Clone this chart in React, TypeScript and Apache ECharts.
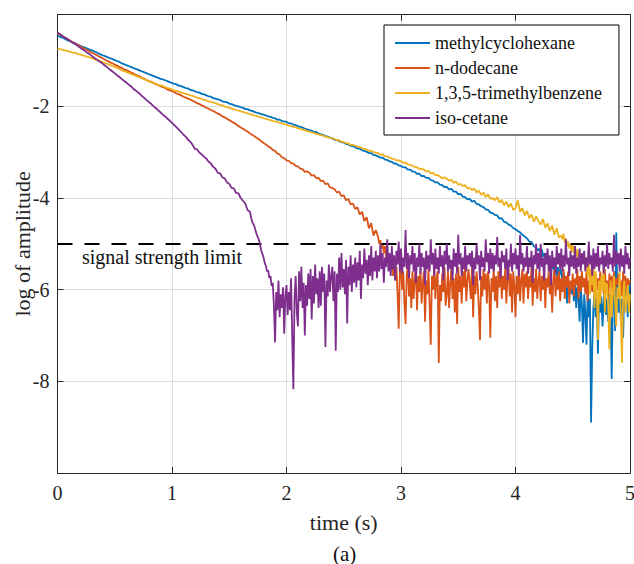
import React, { useEffect, useRef } from "react";
import * as echarts from "echarts";

// Each curve: a "head" sampled every 0.02 s from t = 0, and a noisy "tail"
// sampled every 0.01 s starting at its own start time.
const HEAD_DT = 0.02;
const TAIL_DT = 0.01;
const X_TICKS = [0, 1, 2, 3, 4, 5];
const Y_MIN = -10;
const Y_MAX = 0;
const LIMIT = -5;

const seriesNames = [
  "methylcyclohexane",
  "n-dodecane",
  "1,3,5-trimethylbenzene",
  "iso-cetane",
];
const seriesColors = ["#0072BD", "#D95319", "#EDB120", "#7E2F8E"];

// ---- methylcyclohexane ----
const mchHead = [
  -0.46,-0.48,-0.50,-0.52,-0.55,-0.57,-0.59,-0.61,-0.63,-0.66,
  -0.68,-0.70,-0.72,-0.74,-0.76,-0.78,-0.80,-0.82,-0.85,-0.87,
  -0.89,-0.91,-0.93,-0.95,-0.97,-0.99,-1.01,-1.03,-1.06,-1.08,
  -1.10,-1.12,-1.14,-1.16,-1.18,-1.20,-1.22,-1.24,-1.26,-1.28,
  -1.30,-1.32,-1.34,-1.36,-1.38,-1.40,-1.41,-1.43,-1.45,-1.47,
  -1.49,-1.51,-1.52,-1.55,-1.56,-1.58,-1.60,-1.61,-1.64,-1.65,
  -1.67,-1.69,-1.70,-1.73,-1.74,-1.76,-1.78,-1.79,-1.82,-1.83,
  -1.85,-1.86,-1.89,-1.90,-1.91,-1.94,-1.95,-1.97,-1.99,-2.00,
  -2.02,-2.03,-2.06,-2.06,-2.09,-2.10,-2.12,-2.14,-2.15,-2.17,
  -2.18,-2.20,-2.22,-2.23,-2.25,-2.26,-2.29,-2.29,-2.32,-2.33,
  -2.34,-2.37,-2.37,-2.40,-2.41,-2.43,-2.45,-2.46,-2.49,-2.50,
  -2.52,-2.53,-2.56,-2.56,-2.59,-2.61,-2.62,-2.65,-2.66,-2.68,
  -2.70,-2.73,-2.73,-2.76,-2.78,-2.79,-2.82,-2.83,-2.86,-2.87,
  -2.89,-2.92,-2.92,-2.96,-2.97,-2.99,-3.02,-3.02,-3.06,-3.07,
  -3.09,-3.12,-3.12,-3.16,-3.17,-3.20,-3.21,-3.25,-3.25,-3.29,
  -3.30,-3.33,-3.33,-3.38,-3.38,-3.42,-3.43,-3.47,-3.47,-3.52,
  -3.52,-3.56,-3.56,-3.61,-3.62,-3.66,-3.66,-3.71,-3.72,-3.76,
  -3.76,-3.81,-3.80,-3.86,-3.86,-3.92,-3.91,-3.97,-3.98,-4.03,
  -4.02,-4.08,-4.06,-4.13,-4.14,-4.18,-4.20,-4.25,-4.26,-4.32,
  -4.33,-4.37,-4.38,-4.45,-4.44,-4.52,-4.53,-4.58,-4.60,-4.66,
  -4.68,-4.72,-4.75,-4.80,-4.84,-4.88,-4.95,-4.96,-5.05,-5.08,
];
const mchTailStart = 4.2;
const mchTail = [
  -5.15,-5.10,-5.22,-5.12,-5.28,-5.20,-5.35,-5.25,-5.42,-5.30,
  -5.45,-5.38,-5.55,-5.40,-5.62,-5.45,-5.70,-5.50,-5.75,-5.55,
  -5.60,-5.85,-5.62,-5.95,-5.70,-6.30,-5.78,-6.05,-5.85,-6.10,
  -5.90,-6.25,-5.80,-6.40,-5.95,-6.20,-6.70,-5.90,-6.35,-7.16,
  -6.10,-6.50,-7.20,-6.05,-6.60,-6.20,-8.90,-7.30,-6.40,-6.10,
  -6.60,-6.20,-7.40,-6.00,-6.50,-6.15,-6.80,-6.30,-5.90,-6.55,
  -6.20,-6.70,-6.10,-6.40,-7.95,-6.30,-5.60,-6.90,-4.75,-6.20,
  -6.50,-5.90,-6.70,-6.20,-7.05,-6.00,-6.40,-5.85,-6.60,-6.10,
  -5.85,
];

// ---- n-dodecane ----
const dodHead = [
  -0.40,-0.43,-0.46,-0.49,-0.52,-0.55,-0.58,-0.61,-0.64,-0.66,
  -0.69,-0.72,-0.75,-0.77,-0.80,-0.83,-0.85,-0.88,-0.91,-0.93,
  -0.96,-0.99,-1.01,-1.04,-1.06,-1.09,-1.11,-1.14,-1.16,-1.19,
  -1.21,-1.23,-1.26,-1.28,-1.31,-1.33,-1.35,-1.38,-1.40,-1.43,
  -1.45,-1.47,-1.49,-1.52,-1.54,-1.56,-1.58,-1.60,-1.63,-1.65,
  -1.67,-1.69,-1.72,-1.74,-1.76,-1.79,-1.81,-1.83,-1.85,-1.88,
  -1.90,-1.93,-1.95,-1.98,-2.00,-2.03,-2.05,-2.08,-2.10,-2.13,
  -2.16,-2.18,-2.22,-2.24,-2.27,-2.30,-2.33,-2.36,-2.39,-2.43,
  -2.46,-2.49,-2.52,-2.55,-2.59,-2.62,-2.65,-2.69,-2.72,-2.76,
  -2.80,-2.83,-2.87,-2.90,-2.95,-2.97,-3.03,-3.05,-3.11,-3.13,
  -3.18,-3.19,-3.24,-3.25,-3.30,-3.31,-3.36,-3.37,-3.43,-3.42,
  -3.45,-3.51,-3.50,-3.57,-3.56,-3.63,-3.62,-3.70,-3.68,-3.77,
  -3.78,-3.81,-3.88,-3.86,-3.96,-3.94,-4.05,-4.02,-4.14,-4.12,
  -4.24,-4.20,-4.36,-4.30,-4.50,-4.42,-4.66,-4.55,-4.82,-4.70,
];
const dodTailStart = 2.8;
const dodTail = [
  -4.85,-5.00,-4.92,-5.10,-5.02,-5.20,-5.05,-5.30,-5.15,-5.45,
  -5.25,-5.55,-5.35,-5.70,-5.30,-5.80,-5.50,-6.10,-6.85,-5.60,
  -5.50,-6.00,-5.60,-6.30,-6.75,-5.70,-5.45,-6.15,-5.75,-6.40,
  -5.60,-6.20,-5.80,-5.50,-6.45,-5.70,-6.05,-5.55,-6.30,-5.85,
  -5.60,-6.70,-5.80,-6.10,-5.55,-6.35,-7.20,-5.70,-6.00,-5.50,
  -6.20,-5.75,-5.60,-7.60,-5.90,-6.25,-5.65,-6.05,-5.50,-6.35,
  -6.10,-5.60,-6.40,-5.85,-5.55,-6.20,-5.75,-6.50,-5.65,-6.75,
  -5.50,-6.05,-5.70,-6.30,-5.60,-5.95,-5.45,-6.25,-5.80,-5.55,
  -5.85,-6.20,-5.50,-6.60,-5.70,-6.10,-5.60,-5.90,-6.40,-7.10,
  -5.70,-6.15,-5.55,-6.00,-5.65,-6.30,-5.60,-5.90,-7.05,-5.75,
  -6.05,-5.50,-6.25,-5.70,-6.40,-5.60,-5.95,-5.45,-6.20,-5.70,
  -6.00,-5.55,-6.30,-5.75,-5.50,-6.15,-5.65,-6.50,-5.60,-5.90,
  -6.60,-5.70,-6.10,-5.50,-6.25,-5.80,-5.55,-6.30,-5.65,-5.95,
  -5.60,-6.20,-5.70,-5.95,-5.50,-6.35,-5.75,-6.05,-5.55,-6.20,
  -5.80,-5.60,-6.25,-5.70,-6.00,-5.50,-6.40,-5.75,-5.95,-5.60,
  -6.10,-5.70,-6.50,-5.80,-5.55,-6.15,-5.70,-6.00,-5.60,-6.25,
  -5.75,-6.05,-5.55,-6.20,-5.70,-5.95,-5.60,-6.30,-5.80,-6.00,
  -5.65,-6.15,-5.75,-5.90,-5.55,-6.20,-5.70,-6.05,-5.60,-5.95,
  -5.75,-6.10,-5.60,-6.25,-5.80,-5.95,-5.55,-6.05,-5.70,-6.20,
  -5.65,-6.00,-5.75,-6.15,-5.60,-5.90,-5.70,-6.10,-5.55,-6.00,
  -5.80,-6.20,-5.65,-5.95,-5.70,-6.10,-5.60,-6.00,-5.75,-5.90,
  -5.65,-6.05,-5.80,-6.15,-5.60,-5.95,-5.70,-6.10,-5.75,-5.90,
  -5.80,
];

// ---- 1,3,5-trimethylbenzene ----
const tmbHead = [
  -0.74,-0.75,-0.76,-0.78,-0.79,-0.80,-0.82,-0.83,-0.84,-0.86,
  -0.87,-0.89,-0.90,-0.92,-0.93,-0.95,-0.97,-0.99,-1.00,-1.02,
  -1.04,-1.06,-1.08,-1.10,-1.12,-1.14,-1.16,-1.18,-1.21,-1.23,
  -1.25,-1.27,-1.29,-1.31,-1.33,-1.35,-1.37,-1.39,-1.41,-1.43,
  -1.45,-1.47,-1.49,-1.51,-1.53,-1.54,-1.56,-1.58,-1.60,-1.61,
  -1.63,-1.65,-1.66,-1.68,-1.70,-1.71,-1.73,-1.74,-1.76,-1.77,
  -1.79,-1.81,-1.82,-1.84,-1.86,-1.87,-1.89,-1.90,-1.92,-1.93,
  -1.95,-1.97,-1.98,-2.00,-2.02,-2.03,-2.05,-2.06,-2.08,-2.09,
  -2.11,-2.12,-2.14,-2.15,-2.17,-2.18,-2.20,-2.21,-2.23,-2.24,
  -2.26,-2.27,-2.29,-2.30,-2.32,-2.33,-2.34,-2.36,-2.37,-2.39,
  -2.40,-2.42,-2.43,-2.45,-2.46,-2.48,-2.49,-2.51,-2.52,-2.54,
  -2.55,-2.57,-2.58,-2.60,-2.61,-2.63,-2.64,-2.66,-2.67,-2.69,
  -2.70,-2.71,-2.74,-2.74,-2.77,-2.78,-2.80,-2.81,-2.84,-2.84,
  -2.86,-2.88,-2.89,-2.91,-2.93,-2.94,-2.97,-2.97,-3.00,-3.01,
  -3.02,-3.05,-3.05,-3.09,-3.09,-3.12,-3.14,-3.15,-3.18,-3.18,
  -3.20,-3.23,-3.23,-3.27,-3.27,-3.30,-3.32,-3.33,-3.37,-3.36,
  -3.38,-3.42,-3.41,-3.46,-3.45,-3.50,-3.50,-3.53,-3.57,-3.55,
  -3.58,-3.62,-3.60,-3.67,-3.64,-3.71,-3.69,-3.74,-3.72,-3.79,
  -3.78,-3.83,-3.79,-3.88,-3.84,-3.93,-3.88,-3.98,-3.92,-4.02,
  -4.00,-4.05,-3.98,-4.10,-4.04,-4.16,-4.08,-4.20,-4.12,-4.26,
  -4.22,-4.05,-4.30,-4.22,-4.38,-4.28,-4.44,-4.36,-4.52,-4.40,
  -4.50,-4.58,-4.46,-4.65,-4.55,-4.72,-4.60,-4.80,-4.66,-4.86,
];
const tmbTailStart = 4.4;
const tmbTail = [
  -4.82,-4.90,-4.78,-4.98,-4.88,-5.05,-4.95,-5.10,-5.00,-5.18,
  -5.02,-5.20,-5.08,-5.28,-5.12,-5.35,-5.20,-5.45,-5.25,-5.40,
  -5.25,-5.55,-5.30,-5.70,-5.40,-6.10,-5.55,-5.90,-5.45,-6.40,
  -5.60,-6.05,-7.10,-5.80,-6.30,-5.70,-6.00,-5.50,-6.50,-5.85,
  -5.90,-6.40,-7.30,-5.80,-6.60,-6.10,-5.70,-6.30,-6.80,-5.95,
  -6.20,-5.60,-6.60,-7.60,-6.10,-5.80,-6.50,-6.20,-5.90,-6.50,
  -6.10,
];

// ---- iso-cetane ----
const isoHead = [
  -0.39,-0.42,-0.46,-0.49,-0.52,-0.55,-0.59,-0.62,-0.65,-0.69,
  -0.72,-0.76,-0.79,-0.83,-0.86,-0.90,-0.94,-0.97,-1.01,-1.04,
  -1.08,-1.12,-1.16,-1.20,-1.24,-1.28,-1.32,-1.36,-1.40,-1.44,
  -1.48,-1.52,-1.56,-1.61,-1.65,-1.69,-1.73,-1.78,-1.82,-1.87,
  -1.91,-1.95,-2.00,-2.04,-2.09,-2.13,-2.18,-2.22,-2.27,-2.31,
  -2.36,-2.41,-2.46,-2.51,-2.56,-2.62,-2.66,-2.73,-2.77,-2.84,
  -2.93,-2.94,-3.01,-3.05,-3.10,-3.14,-3.21,-3.25,-3.32,-3.36,
  -3.45,-3.46,-3.55,-3.57,-3.66,-3.69,-3.78,-3.79,-3.89,-3.90,
  -4.00,-4.06,-4.12,-4.26,-4.30,-4.52,-4.62,-4.80,-4.92,-5.15,
];
const isoTailStart = 1.8;
const isoTail = [
  -5.30,-5.42,-5.48,-5.60,-5.58,-5.75,-5.70,-5.92,-5.85,-6.35,
  -7.15,-6.05,-6.45,-5.80,-6.60,-6.10,-6.40,-5.95,-6.96,-6.15,
  -5.90,-6.55,-6.05,-6.45,-5.75,-7.05,-8.17,-6.20,-5.70,-6.50,
  -6.80,-5.60,-6.25,-5.50,-6.40,-5.85,-7.00,-5.90,-6.35,-5.65,
  -6.20,-5.55,-6.65,-5.70,-6.30,-5.45,-6.10,-5.75,-6.40,-5.60,
  -6.35,-5.50,-6.05,-5.65,-7.25,-5.80,-6.15,-5.45,-6.05,-5.70,
  -5.50,-6.25,-5.60,-7.33,-5.65,-6.05,-5.30,-6.00,-5.20,-5.95,
  -5.55,-6.10,-5.35,-6.74,-5.50,-5.90,-5.25,-6.05,-5.45,-5.85,
  -5.30,-5.95,-5.40,-5.80,-5.15,-6.20,-5.45,-5.75,-5.10,-5.65,
  -5.35,-5.90,-5.25,-5.70,-5.05,-5.80,-5.30,-5.60,-5.15,-5.75,
  -5.25,-5.60,-5.00,-5.55,-5.20,-5.85,-5.30,-5.50,-4.90,-5.60,
  -5.20,-5.70,-5.05,-5.55,-5.25,-5.80,-5.15,-5.45,-4.95,-5.60,
  -5.10,-5.65,-5.30,-5.50,-4.70,-5.55,-5.20,-5.75,-5.25,-5.45,
  -5.05,-5.60,-5.20,-5.85,-5.30,-5.50,-5.00,-5.65,-5.20,-5.50,
  -5.30,-5.90,-5.15,-5.55,-5.25,-5.60,-4.90,-5.45,-5.20,-5.70,
  -5.10,-5.55,-5.30,-5.65,-5.05,-5.50,-5.25,-5.80,-5.15,-5.45,
  -5.00,-5.60,-5.25,-5.55,-5.35,-5.80,-5.10,-5.50,-5.20,-5.65,
  -4.80,-5.45,-5.20,-5.70,-5.30,-5.55,-5.05,-5.60,-5.25,-5.45,
  -5.20,-5.50,-5.15,-5.90,-5.30,-5.55,-5.00,-5.45,-5.25,-5.80,
  -5.15,-5.50,-5.30,-5.60,-4.90,-5.40,-5.20,-5.65,-5.10,-5.55,
  -5.20,-5.60,-5.25,-5.45,-4.85,-5.50,-5.30,-5.75,-5.15,-5.40,
  -5.25,-5.55,-5.10,-5.80,-5.35,-5.50,-5.00,-5.60,-5.20,-5.45,
  -5.10,-5.55,-5.25,-5.70,-4.80,-5.45,-5.20,-5.60,-5.30,-5.50,
  -5.05,-5.65,-5.30,-5.50,-5.15,-5.85,-5.25,-5.45,-5.00,-5.55,
  -5.20,-5.60,-5.00,-5.50,-5.30,-5.80,-5.20,-5.45,-5.10,-5.60,
  -5.25,-5.90,-5.15,-5.50,-5.30,-5.65,-5.05,-5.45,-5.20,-5.55,
  -5.10,-5.60,-5.25,-5.50,-4.90,-5.45,-5.30,-5.70,-5.15,-5.50,
  -5.25,-5.55,-5.05,-5.65,-5.30,-5.50,-5.10,-5.60,-5.20,-5.45,
  -5.15,-5.60,-5.30,-5.50,-4.95,-5.45,-5.25,-5.70,-5.10,-5.55,
  -5.20,-5.50,-5.05,-5.60,-5.30,-5.45,-5.15,-5.65,-5.25,-5.50,
  -5.00,-5.55,-5.20,-5.45,-5.30,-5.60,-4.80,-5.50,-5.15,-5.45,
  -5.20,-5.60,-5.10,-5.50,-5.25,-5.65,-5.05,-5.45,-5.20,-5.55,
  -5.30,
];

const seriesParts = [
  { head: mchHead, tailStart: mchTailStart, tail: mchTail },
  { head: dodHead, tailStart: dodTailStart, tail: dodTail },
  { head: tmbHead, tailStart: tmbTailStart, tail: tmbTail },
  { head: isoHead, tailStart: isoTailStart, tail: isoTail },
];

const FONT = "Liberation Serif";
const AXIS_COLOR = "#262626";

export default function App() {
  const ref = useRef<HTMLDivElement>(null);

  useEffect(() => {
    if (!ref.current) return;
    const chart = echarts.init(ref.current, undefined, { renderer: "svg" });

    const toPairs = (p: { head: number[]; tailStart: number; tail: number[] }) => [
      ...p.head.map((v, i) => [+(i * HEAD_DT).toFixed(2), v]),
      ...p.tail.map((v, j) => [+(p.tailStart + j * TAIL_DT).toFixed(2), v]),
    ];

    const baseX = {
      type: "value" as const,
      min: X_TICKS[0],
      max: X_TICKS[X_TICKS.length - 1],
      interval: 1,
      axisLine: { show: true, onZero: false, lineStyle: { color: AXIS_COLOR, width: 1 } },
      axisTick: { show: true, inside: true, length: 6, lineStyle: { color: AXIS_COLOR } },
    };
    const baseY = {
      type: "value" as const,
      min: Y_MIN,
      max: Y_MAX,
      interval: 2,
      axisLine: { show: true, onZero: false, lineStyle: { color: AXIS_COLOR, width: 1 } },
      axisTick: { show: true, inside: true, length: 6, lineStyle: { color: AXIS_COLOR } },
    };

    const series: any[] = seriesNames.map((name, k) => ({
      name,
      type: "line",
      data: toPairs(seriesParts[k]),
      showSymbol: false,
      symbol: "none",
      color: seriesColors[k],
      lineStyle: { width: 1.8, color: seriesColors[k] },
      z: 2 + k,
    }));
    series[3].markLine = {
      silent: true,
      symbol: ["none", "none"],
      label: { show: false },
      lineStyle: { color: "#000", type: [15, 12], width: 2 },
      data: [{ yAxis: LIMIT }],
    };

    chart.setOption({
      animation: false,
      backgroundColor: "#fff",
      textStyle: { fontFamily: FONT },
      grid: {
        left: 57.5,
        right: 4,
        top: 14.7,
        bottom: 91,
        containLabel: false,
        outerBoundsMode: "none",
      },
      xAxis: [
        {
          ...baseX,
          position: "bottom",
          name: "time (s)",
          nameLocation: "middle",
          nameGap: 38,
          nameMoveOverlap: false,
          nameTextStyle: { fontFamily: FONT, fontSize: 22, color: AXIS_COLOR },
          axisLabel: { fontFamily: FONT, fontSize: 20, color: AXIS_COLOR, margin: 10 },
          splitLine: { show: true, lineStyle: { color: "#dcdcdc", width: 1 } },
        },
        {
          ...baseX,
          position: "top",
          axisLabel: { show: false },
          splitLine: { show: false },
        },
      ],
      yAxis: [
        {
          ...baseY,
          position: "left",
          name: "log of amplitude",
          nameLocation: "middle",
          nameGap: 24,
          nameMoveOverlap: false,
          nameTextStyle: { fontFamily: FONT, fontSize: 22, color: AXIS_COLOR },
          axisLabel: {
            fontFamily: FONT,
            fontSize: 20,
            color: AXIS_COLOR,
            margin: 8,
            formatter: (v: number) => (v === Y_MIN || v === Y_MAX ? "" : String(v)),
          },
          splitLine: { show: true, lineStyle: { color: "#dcdcdc", width: 1 } },
        },
        {
          ...baseY,
          position: "right",
          axisLabel: { show: false },
          splitLine: { show: false },
        },
      ],
      legend: {
        orient: "vertical",
        left: 384,
        top: 25,
        data: seriesNames,
        icon: "rect",
        itemWidth: 35,
        itemHeight: 2,
        itemGap: 7,
        padding: [9, 17, 8, 11],
        borderColor: "#000",
        borderWidth: 1,
        borderRadius: 0,
        backgroundColor: "#fff",
        z: 20,
        textStyle: { fontFamily: FONT, fontSize: 18, color: "#111", lineHeight: 18 },
      },
      graphic: [
        {
          type: "text",
          left: 82,
          top: 247,
          z: 30,
          style: { text: "signal strength limit", fontFamily: FONT, fontSize: 20, fill: "#111" },
        },
        {
          type: "text",
          left: 333,
          top: 543,
          z: 30,
          style: { text: "(a)", fontFamily: FONT, fontSize: 21, fill: "#111" },
        },
      ],
      series,
    });

    return () => chart.dispose();
  }, []);

  return (
    <div
      ref={ref}
      style={{ position: "absolute", left: 0, top: 0, width: 634, height: 564 }}
    />
  );
}
